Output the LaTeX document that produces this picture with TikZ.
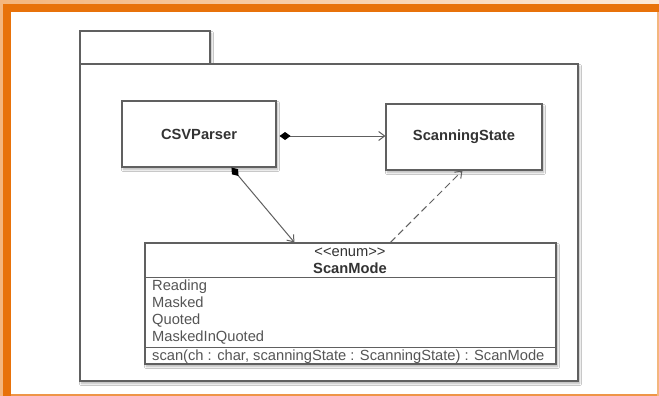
\documentclass[tikz,border=0pt]{standalone}
\usepackage{fontspec}
\setmainfont{Liberation Sans}
\usetikzlibrary{arrows.meta,shadows.blur}
\definecolor{frameorange}{HTML}{E8720A}
\definecolor{framelight}{HTML}{F4B67E}
\definecolor{umlline}{HTML}{606060}
\definecolor{umltext}{HTML}{333333}
\definecolor{attrtext}{HTML}{555555}
\tikzset{
  umlfont/.style={font=\fontsize{14.7pt}{17pt}\selectfont},
  umlbold/.style={font=\fontsize{14.7pt}{17pt}\selectfont\bfseries},
  pkgpart/.style={draw=umlline, line width=1.2pt, fill=white},
  softshadow/.style={blur shadow={shadow xshift=1.5pt, shadow yshift=-2.5pt, shadow blur steps=6, shadow opacity=30}},
  classbox/.style={draw=umlline, line width=1.1pt, fill=white, inner sep=0pt,
    text=umltext, umlbold, softshadow},
  enumbox/.style={draw=umlline, line width=1.1pt, fill=white, inner sep=0pt, softshadow},
  attr/.style={umlfont, text=attrtext, anchor=base west, inner sep=0pt},
  sep/.style={draw=umlline, line width=1.1pt},
  composition/.style={draw=umlline, line width=1pt,
    {Diamond[length=11pt,width=8pt,color=black,fill=black]}-{Straight Barb[length=6pt,width=9pt]}},
  dependency/.style={draw=umlline, line width=1pt, dash pattern=on 7pt off 4pt,
    -{Straight Barb[length=6pt,width=9pt]}},
}
\begin{document}
\begin{tikzpicture}[x=1pt,y=-1pt]
\useasboundingbox (0,0) rectangle (659,396);
% page frame
\fill[white] (0,0) rectangle (659,396);
\shade[left color=framelight, right color=framelight!30] (0,0) rectangle (659,4);
\fill[frameorange] (0,4) rectangle (659,12);
\fill[framelight] (0,4) rectangle (3,396);
\fill[frameorange] (3,4) rectangle (11,396);
\fill[frameorange!75] (11,394) rectangle (659,396);
\fill[framelight] (657,12) rectangle (659,396);

% package: tab and body
\draw[pkgpart, softshadow] (80,31) rectangle (210,64);
\draw[pkgpart, softshadow] (80,64) rectangle (578,381);
\draw[pkgpart] (80,31) rectangle (210,64);

% classes
\node[classbox, minimum width=154pt, minimum height=66pt] (csv) at (199,134) {CSVParser};
\node[classbox, minimum width=156pt, minimum height=66pt] (ss) at (464,137) {ScanningState};

% enumeration
\node[enumbox, minimum width=411pt, minimum height=121pt] (enum) at (350.5,303.5) {};
\draw[sep] ([yshift=-35pt]enum.north west) -- ([yshift=-35pt]enum.north east);
\draw[sep] ([yshift=17pt]enum.south west) -- ([yshift=17pt]enum.south east);
\node[umlfont, text=umltext, anchor=base, inner sep=0pt] (stereo) at (350,256) {<\kern0pt<enum>\kern0pt>};
\node[umlbold, text=umltext, anchor=base, inner sep=0pt] (ename) at (350,273) {ScanMode};
\node[attr] (lit1) at (152,290) {Reading};
\node[attr] (lit2) at (152,307) {Masked};
\node[attr] (lit3) at (152,324) {Quoted};
\node[attr] (lit4) at (152,341) {MaskedInQuoted};
\node[attr] (op) at (152,360) {scan(ch : char, scanningState : ScanningState) : ScanMode};

% connectors
\draw[composition, shorten <=3pt] ([yshift=-2pt]csv.east) -- ([yshift=-2pt]csv.east -| ss.west);
\draw[composition] ([xshift=110pt]csv.south west) -- ([xshift=150pt]enum.north west);
\draw[dependency] ([xshift=246pt]enum.north west) -- ([xshift=77pt]ss.south west);
\end{tikzpicture}
\end{document}
